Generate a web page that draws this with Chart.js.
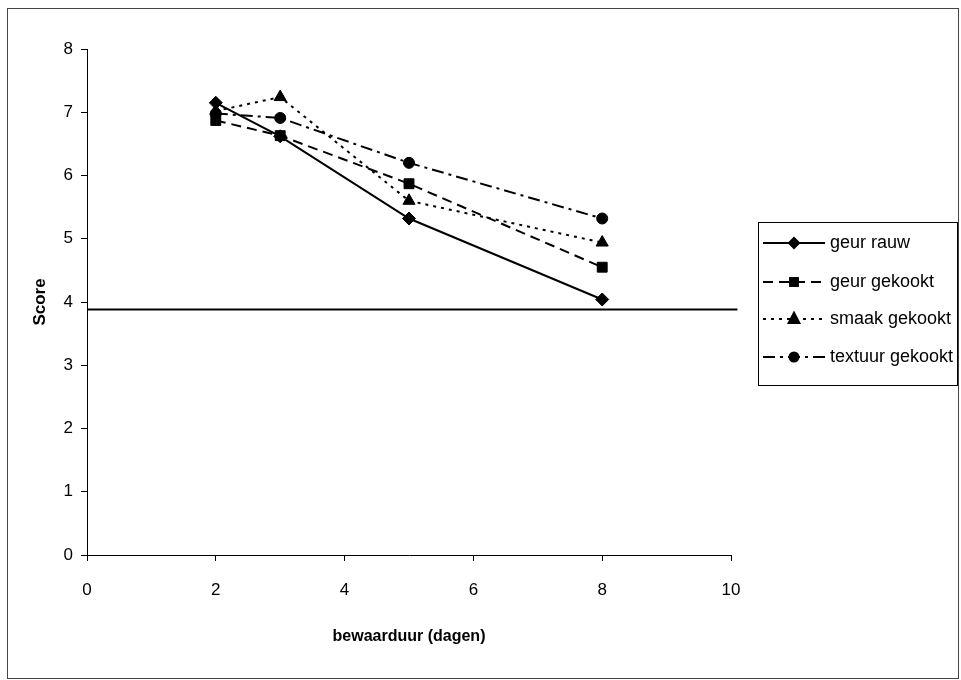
<!DOCTYPE html>
<html><head><meta charset="utf-8">
<script src="https://cdn.jsdelivr.net/npm/chart.js@4"></script>
<style>html,body{margin:0;padding:0;background:#fff}#wrap{position:relative;width:961px;height:680px}</style>
</head><body><div id="wrap"><canvas id="c" width="961" height="680"></canvas></div>
<script>
const days = [2, 3, 5, 8];
const seriesNames = ['geur rauw', 'geur gekookt', 'smaak gekookt', 'textuur gekookt'];
const geurRauw = [7.15, 6.62, 5.32, 4.04];
const geurGekookt = [6.87, 6.63, 5.87, 4.55];
const smaakGekookt = [7.02, 7.24, 5.6, 4.94];
const textuurGekookt = [6.98, 6.91, 6.2, 5.32];
const limitX = [0, 10.1];
const limitY = [3.88, 3.88];
const xTicks = [0, 2, 4, 6, 8, 10];
const yTicks = [0, 1, 2, 3, 4, 5, 6, 7, 8];
const xTitle = 'bewaarduur (dagen)';
const yTitle = 'Score';

const FONT = '"Liberation Sans", Arial, sans-serif';
const styles = [
  {pointStyle: 'rectRot', radius: 6.5, dash: []},
  {pointStyle: 'rect', radius: 7, dash: [10, 6]},
  {pointStyle: 'triangle', radius: 7, dash: [3, 5]},
  {pointStyle: 'circle', radius: 5.5, dash: [12, 5, 3, 5]}
];
const values = [geurRauw, geurGekookt, smaakGekookt, textuurGekookt];

const datasets = values.map((vals, i) => ({
  label: seriesNames[i],
  data: days.map((d, j) => ({x: d, y: vals[j]})),
  borderColor: '#000',
  backgroundColor: '#000',
  borderWidth: 2,
  borderDash: styles[i].dash,
  pointStyle: styles[i].pointStyle,
  pointRadius: styles[i].radius,
  pointBorderWidth: 1,
  pointBackgroundColor: '#000',
  pointBorderColor: '#000',
  tension: 0,
  fill: false
}));
datasets.push({
  label: 'grens',
  data: limitX.map((x, j) => ({x: x, y: limitY[j]})),
  borderColor: '#000',
  borderWidth: 2,
  pointRadius: 0,
  clip: false,
  fill: false
});

function drawMarker(ctx, style, x, y, r) {
  ctx.beginPath();
  if (style === 'rectRot') {
    ctx.moveTo(x, y - r); ctx.lineTo(x + r, y); ctx.lineTo(x, y + r); ctx.lineTo(x - r, y);
  } else if (style === 'rect') {
    const s = r * Math.SQRT1_2;
    ctx.rect(x - s, y - s, 2 * s, 2 * s);
  } else if (style === 'triangle') {
    const h = r * 3 / Math.sqrt(3);
    ctx.moveTo(x, y - 2 * h / 3 - 0.5);
    ctx.lineTo(x + r, y + h / 3 + 1);
    ctx.lineTo(x - r, y + h / 3 + 1);
  } else {
    ctx.arc(x, y, r, 0, Math.PI * 2);
  }
  ctx.closePath();
  ctx.fill();
}

const extras = {
  id: 'extras',
  afterDraw(chart) {
    const ctx = chart.ctx;
    ctx.save();
    ctx.strokeStyle = '#444';
    ctx.lineWidth = 1;
    ctx.setLineDash([]);
    ctx.strokeRect(7.5, 8.5, 951, 670);
    const lx = 758, ly = 222, lw = 199, lh = 163;
    ctx.strokeStyle = '#000';
    ctx.strokeRect(lx + 0.5, ly + 0.5, lw, lh);
    const rows = [243, 282, 319, 357];
    ctx.font = '18px ' + FONT;
    ctx.textBaseline = 'middle';
    ctx.fillStyle = '#000';
    seriesNames.forEach((name, i) => {
      const y = rows[i];
      ctx.strokeStyle = '#000';
      ctx.lineWidth = 2;
      ctx.setLineDash(styles[i].dash);
      ctx.beginPath();
      ctx.moveTo(763, y);
      ctx.lineTo(825, y);
      ctx.stroke();
      ctx.setLineDash([]);
      drawMarker(ctx, styles[i].pointStyle, 794, y, styles[i].radius);
      ctx.fillText(name, 830, y);
    });
    ctx.restore();
  }
};

new Chart(document.getElementById('c'), {
  type: 'line',
  data: {datasets: datasets},
  plugins: [extras],
  options: {
    responsive: false,
    animation: false,
    devicePixelRatio: 1,
    layout: {padding: {left: 0, top: 49, right: 230, bottom: 0}},
    plugins: {legend: {display: false}, tooltip: {enabled: false}},
    scales: {
      x: {
        type: 'linear',
        min: 0, max: 10,
        afterBuildTicks: (s) => { s.ticks = xTicks.map(v => ({value: v})); },
        afterFit: (s) => { s.height = 125; },
        grid: {display: true, drawOnChartArea: false, drawTicks: true, tickLength: 6, color: '#000', lineWidth: 1},
        border: {display: true, color: '#000', width: 1},
        ticks: {color: '#000', font: {family: FONT, size: 17}, padding: 19, maxRotation: 0},
        title: {display: true, text: xTitle, color: '#000', font: {family: FONT, size: 16, weight: 'bold'}, padding: {top: 0, bottom: 34}}
      },
      y: {
        type: 'linear',
        min: 0, max: 8,
        afterBuildTicks: (s) => { s.ticks = yTicks.map(v => ({value: v})); },
        afterFit: (s) => { s.width = 87; },
        grid: {display: true, drawOnChartArea: false, drawTicks: true, tickLength: 6, color: '#000', lineWidth: 1},
        border: {display: true, color: '#000', width: 1},
        ticks: {color: '#000', font: {family: FONT, size: 17}, padding: 8},
        title: {display: true, text: yTitle, color: '#000', font: {family: FONT, size: 17, weight: 'bold'}, padding: {top: 30, bottom: 0}}
      }
    }
  }
});
</script></body></html>
